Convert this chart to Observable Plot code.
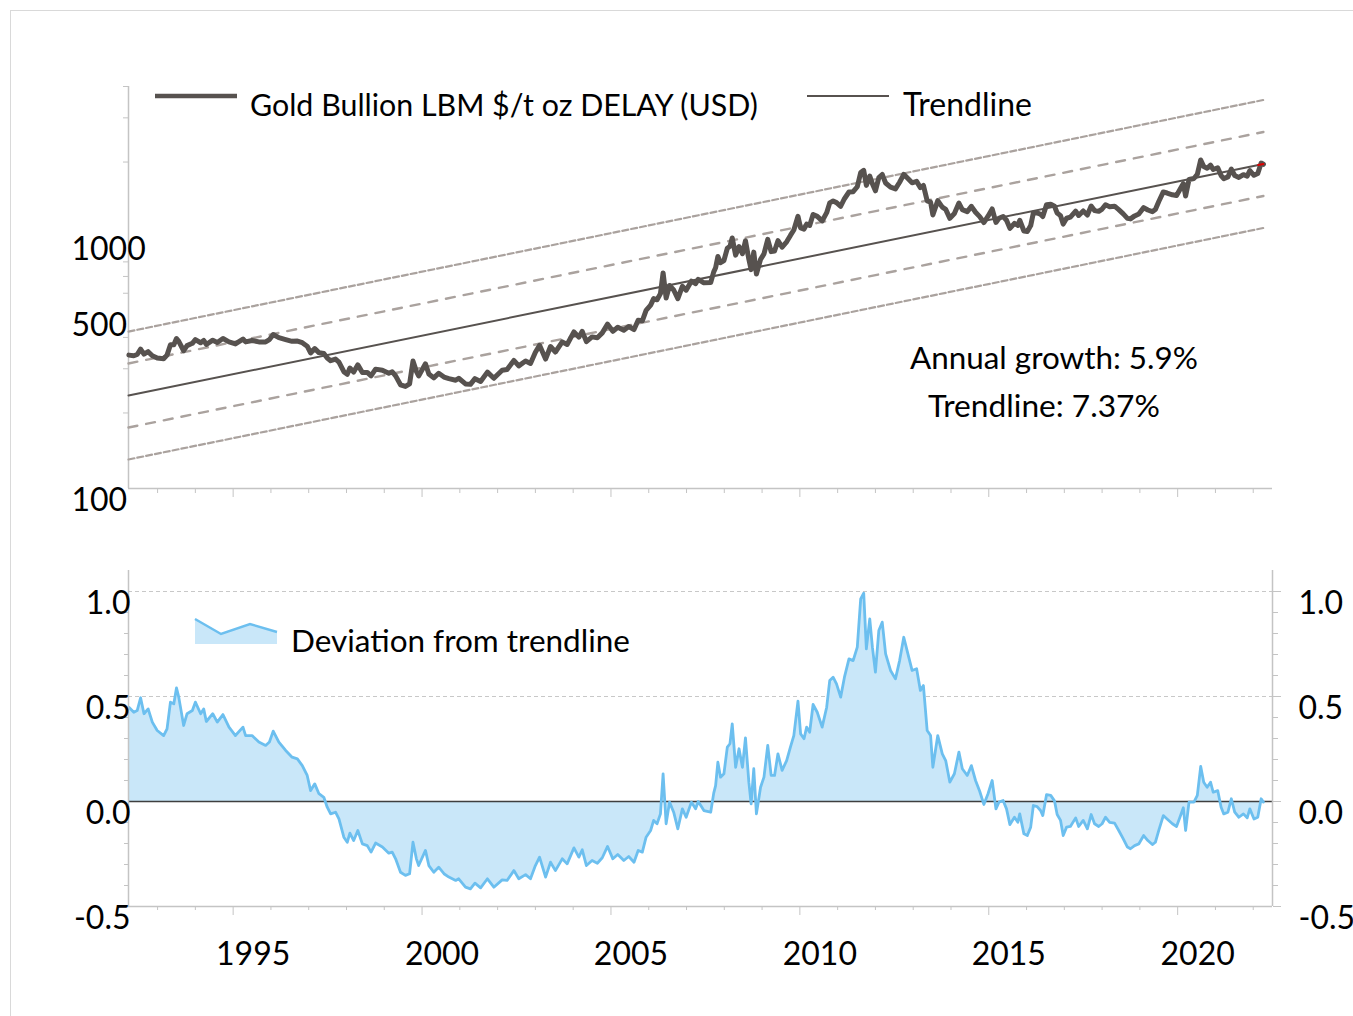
<!DOCTYPE html>
<html><head><meta charset="utf-8">
<script src="https://cdn.jsdelivr.net/npm/d3@7"></script>
<script src="https://cdn.jsdelivr.net/npm/@observablehq/plot@0.6"></script>
<style>
html,body{margin:0;padding:0;background:#fff;overflow:hidden;}
#wrap{position:relative;width:1353px;height:1016px;overflow:hidden;}
#border{position:absolute;left:10px;top:10px;width:1400px;height:1100px;border:1px solid #d9d9d9;}
#top{position:absolute;left:0;top:0;}
#bottom{position:absolute;left:0;top:520px;}
#overlay{position:absolute;left:0;top:0;}
</style></head>
<body><div id="wrap"><div id="border"></div><div id="top"></div><div id="bottom"></div><svg id="overlay" width="1353" height="1016"></svg></div>
<script>
// ---- data (decimal years) ----
const dates = [
 1992.24,1992.37,1992.46,1992.55,1992.64,1992.75,1992.86,1992.99,
 1993.16,1993.25,1993.34,1993.43,1993.50,1993.56,1993.69,1993.78,1993.92,
 1994.00,1994.14,1994.22,1994.29,1994.46,1994.58,1994.73,1994.89,
 1995.06,1995.26,1995.33,1995.50,1995.68,1995.86,1995.96,
 1996.06,1996.21,1996.39,1996.56,1996.70,1996.83,1996.96,
 1997.05,1997.16,1997.27,1997.40,1997.49,1997.58,1997.71,1997.80,1997.93,
 1998.02,1998.09,1998.19,1998.30,1998.42,1998.55,1998.65,1998.77,1998.95,
 1999.12,1999.21,1999.30,1999.43,1999.56,1999.67,1999.76,1999.85,1999.91,
 2000.09,2000.18,2000.31,2000.44,2000.58,2000.71,2000.89,2000.97,
 2001.15,2001.28,2001.40,2001.55,2001.73,2001.90,
 2002.12,2002.25,2002.43,2002.56,2002.74,2002.87,
 2003.00,2003.11,2003.27,2003.40,2003.53,2003.71,2003.84,
 2004.02,2004.15,2004.24,2004.35,2004.50,2004.64,2004.77,2004.91,
 2005.05,2005.18,2005.34,2005.47,2005.61,2005.72,2005.83,2005.93,
 2006.05,2006.13,2006.22,2006.31,2006.38,2006.46,2006.55,2006.66,2006.77,2006.89,2006.99,
 2007.13,2007.24,2007.31,2007.46,2007.64,2007.72,2007.77,2007.83,2007.90,2007.99,
 2008.08,2008.15,2008.21,2008.30,2008.39,2008.48,2008.56,2008.65,2008.71,2008.78,2008.85,2008.96,
 2009.05,2009.15,2009.24,2009.33,2009.42,2009.53,2009.65,2009.75,2009.84,2009.95,
 2010.02,2010.11,2010.18,2010.26,2010.35,2010.46,2010.59,2010.71,2010.79,2010.88,2010.97,
 2011.08,2011.18,2011.30,2011.41,2011.52,2011.61,2011.69,2011.76,2011.85,2011.92,
 2012.00,2012.09,2012.18,2012.27,2012.40,2012.53,2012.64,2012.75,2012.86,2012.97,
 2013.09,2013.19,2013.27,2013.37,2013.46,2013.52,2013.65,2013.77,2013.86,2013.97,
 2014.09,2014.21,2014.30,2014.43,2014.54,2014.65,2014.76,2014.87,2014.98,
 2015.09,2015.19,2015.27,2015.38,2015.47,2015.56,2015.68,2015.77,2015.82,2015.93,
 2016.02,2016.11,2016.18,2016.28,2016.37,2016.43,2016.53,2016.64,2016.74,2016.81,2016.90,2016.97,
 2017.06,2017.16,2017.30,2017.38,2017.50,2017.61,2017.71,2017.80,2017.91,
 2018.00,2018.09,2018.20,2018.33,2018.44,2018.56,2018.67,2018.75,2018.86,2018.97,
 2019.10,2019.21,2019.33,2019.41,2019.50,2019.62,2019.72,2019.86,2019.97,
 2020.06,2020.15,2020.21,2020.30,2020.43,2020.52,2020.61,2020.69,2020.78,2020.87,2020.94,
 2021.06,2021.15,2021.22,2021.33,2021.42,2021.51,2021.62,2021.74,2021.84,2021.91,
 2022.02,2022.12,2022.21,2022.27
];
const goldPrices = [
 340,338,342,359,343,351,338,331,
 329,340,374,374,396,386,354,371,379,
 392,381,389,375,390,382,396,384,
 377,394,384,389,384,384,392,
 411,399,392,386,387,381,369,
 347,361,348,345,331,323,328,319,292,
 285,302,291,311,290,290,281,299,296,
 288,292,281,259,255,261,322,293,281,
 314,286,276,288,278,274,270,275,
 261,260,274,267,291,275,
 296,298,324,308,322,315,
 349,372,328,368,350,384,375,
 421,401,423,385,402,399,417,452,
 423,439,427,442,430,468,466,513,
 538,571,565,598,723,574,644,618,571,639,617,
 671,655,682,660,662,730,758,840,794,810,
 907,923,996,851,921,862,971,819,745,875,716,819,
 861,984,879,884,972,916,962,1020,1072,1215,
 1092,1080,1131,1118,1236,1215,1165,1257,1375,1398,1378,
 1333,1428,1519,1523,1594,1816,1852,1614,1758,1639,
 1536,1735,1784,1650,1588,1563,1662,1786,1720,1653,
 1675,1581,1614,1401,1385,1231,1403,1322,1295,1193,
 1247,1372,1293,1269,1332,1261,1212,1148,1217,
 1301,1149,1194,1213,1172,1088,1140,1118,1172,1062,
 1058,1116,1253,1255,1239,1213,1353,1358,1333,1253,1223,1132,
 1194,1206,1275,1225,1276,1230,1335,1281,1272,
 1299,1352,1328,1334,1292,1243,1193,1187,1220,1242,
 1316,1288,1269,1294,1393,1520,1505,1481,1471,
 1555,1641,1464,1704,1720,1787,2039,1919,1889,1944,1867,
 1898,1767,1717,1745,1875,1767,1736,1781,1758,1849,
 1771,1799,1982,1959
];
const deviation = [
 .449,.425,.433,.494,.418,.441,.378,.338,
 .314,.346,.473,.465,.541,.497,.362,.418,.433,
 .473,.418,.441,.381,.418,.378,.414,.354,
 .314,.354,.314,.314,.283,.267,.283,
 .335,.283,.243,.211,.203,.171,.124,
 .052,.084,.037,.020,-.027,-.059,-.051,-.083,-.17,
 -.194,-.151,-.186,-.138,-.202,-.21,-.241,-.198,-.217,
 -.246,-.241,-.273,-.337,-.352,-.344,-.194,-.273,-.305,
 -.233,-.305,-.337,-.313,-.344,-.36,-.376,-.368,
 -.408,-.416,-.389,-.411,-.368,-.408,
 -.373,-.376,-.329,-.368,-.348,-.368,
 -.305,-.265,-.36,-.289,-.329,-.273,-.297,
 -.221,-.265,-.23,-.305,-.281,-.294,-.268,-.214,
 -.273,-.252,-.281,-.262,-.289,-.233,-.241,-.17,
 -.138,-.09,-.106,-.059,.132,-.106,-.003,-.051,-.13,-.035,-.075,
 -.003,-.035,0,-.043,-.051,.04,.076,.187,.116,.132,
 .259,.275,.37,.163,.251,.163,.303,.092,-.011,.156,-.059,.068,
 .116,.267,.124,.124,.227,.148,.195,.259,.314,.478,
 .322,.299,.354,.33,.462,.425,.354,.449,.576,.592,.56,
 .497,.592,.679,.671,.735,.965,.992,.727,.87,.735,
 .616,.814,.854,.703,.624,.584,.671,.782,.703,.624,
 .632,.529,.552,.338,.314,.163,.314,.227,.195,.092,
 .132,.235,.156,.124,.171,.1,.049,-.014,.037,
 .1,-.035,-.003,.005,-.035,-.11,-.075,-.099,-.059,-.154,
 -.162,-.122,-.019,-.024,-.043,-.067,.033,.029,.003,-.062,-.09,-.162,
 -.122,-.119,-.078,-.119,-.09,-.13,-.062,-.106,-.119,
 -.106,-.075,-.099,-.103,-.138,-.178,-.217,-.225,-.21,-.202,
 -.162,-.186,-.205,-.194,-.138,-.067,-.083,-.106,-.119,
 -.075,-.03,-.138,-.003,-.003,.029,.167,.092,.068,.092,.044,
 .052,-.027,-.059,-.051,.013,-.051,-.075,-.059,-.078,-.035,
 -.083,-.075,.013,-.003
];
// trendline and +/- bands: [start, end] values
const trendDates = [1992.23, 2022.27];
const trendValues = [234.7, 1965];
const bandOuterUpper = [422, 3535];
const bandInnerUpper = [315, 2635];
const bandInnerLower = [175, 1465];
const bandOuterLower = [130.5, 1092];
const latestDates = [2022.13, 2022.27];
const latestValues = [1946, 1965];
// axes
const xDomain = [1992.23, 2022.51];
const priceLabels = [100, 500, 1000];
const priceMinorTicks = [200, 300, 400, 600, 700, 800, 2000, 3000, 4000];
const devLabels = [-0.5, 0, 0.5, 1.0];
const devMinorTicks = [-0.4,-0.3,-0.2,-0.1,0.1,0.2,0.3,0.4,0.6,0.7,0.8,0.9];
const devGrid = [0.5, 1.0];
const yearMajor = [1995, 2000, 2005, 2010, 2015, 2020];
const yearMinor = [1993,1994,1996,1997,1998,1999,2001,2002,2003,2004,2006,2007,2008,2009,2011,2012,2013,2014,2016,2017,2018,2019,2021,2022];

// ---- styles ----
const goldColor = "#57524f", bandColor = "#aaa29e", axisGray = "#c4c4c4";
const lineBlue = "#6cbfef", fillBlue = "#c9e7f9";
const font = "Lato, 'Open Sans', sans-serif";

const gold = dates.map((d, i) => ({date: d, price: goldPrices[i]}));
const dev = dates.map((d, i) => ({date: d, value: deviation[i]}));
const trend = trendDates.map((d, i) => ({date: d, value: trendValues[i]}));
const mkBand = (name, arr) => trendDates.map((d, i) => ({date: d, value: arr[i], band: name}));
const outerBands = [...mkBand("ou", bandOuterUpper), ...mkBand("ol", bandOuterLower)];
const innerBands = [...mkBand("iu", bandInnerUpper), ...mkBand("il", bandInnerLower)];
const latest = latestDates.map((d, i) => ({date: d, value: latestValues[i]}));

const baseStyle = {fontFamily: font, fontSize: "32px", background: "none", color: "#000", overflow: "visible"};

const topChart = Plot.plot({
  width: 1353, height: 520,
  marginLeft: 128, marginRight: 81, marginTop: 86, marginBottom: 32,
  style: baseStyle,
  x: {domain: xDomain, label: null},
  y: {type: "log", domain: [100, 4000], label: null},
  marks: [
    Plot.ruleX([xDomain[0]], {stroke: axisGray, strokeWidth: 1.5}),
    Plot.ruleY([100], {stroke: axisGray, strokeWidth: 1.5}),
    Plot.axisY(priceMinorTicks, {anchor: "left", tickSize: 5, tickFormat: () => "", stroke: axisGray, label: null}),
    Plot.axisY(priceLabels, {anchor: "left", tickSize: 0, tickPadding: 0, textAnchor: "start", dx: -57, lineAnchor: "top", tickFormat: d => String(d), label: null}),
    Plot.axisX(yearMinor, {tickSize: 5, tickFormat: () => "", stroke: axisGray, label: null}),
    Plot.axisX(yearMajor, {tickSize: 9, tickFormat: () => "", stroke: axisGray, label: null}),
    Plot.line(outerBands, {x: "date", y: "value", z: "band", stroke: bandColor, strokeWidth: 2.2, strokeDasharray: "6,3"}),
    Plot.line(innerBands, {x: "date", y: "value", z: "band", stroke: bandColor, strokeWidth: 2.4, strokeDasharray: "9,9"}),
    Plot.line(trend, {x: "date", y: "value", stroke: goldColor, strokeWidth: 2}),
    Plot.line(gold, {x: "date", y: "price", stroke: goldColor, strokeWidth: 5, strokeLinejoin: "round"}),
    Plot.line(latest, {x: "date", y: "value", stroke: "#e00000", strokeWidth: 2})
  ]
});
document.getElementById("top").appendChild(topChart);

const fmt = d => d.toFixed(1);
const bottomChart = Plot.plot({
  width: 1353, height: 496,
  marginLeft: 128, marginRight: 81, marginTop: 50, marginBottom: 110,
  style: baseStyle,
  x: {domain: xDomain, label: null},
  y: {domain: [-0.5, 1.1], label: null},
  marks: [
    Plot.ruleY(devGrid, {stroke: "#c8c8c8", strokeDasharray: "4,3", strokeWidth: 1}),
    Plot.areaY(dev, {x: "date", y: "value", fill: fillBlue}),
    Plot.ruleY([0], {stroke: "#3f3f3f", strokeWidth: 1.6}),
    Plot.lineY(dev, {x: "date", y: "value", stroke: lineBlue, strokeWidth: 2.8, strokeLinejoin: "round"}),
    Plot.ruleX([xDomain[0]], {stroke: axisGray, strokeWidth: 1.5}),
    Plot.ruleX([xDomain[1]], {stroke: axisGray, strokeWidth: 1.5}),
    Plot.ruleY([-0.5], {stroke: axisGray, strokeWidth: 1.5}),
    Plot.axisY(devMinorTicks, {anchor: "left", tickSize: 4, tickFormat: () => "", stroke: axisGray, label: null}),
    Plot.axisY(devLabels, {anchor: "left", tickSize: 0, tickPadding: 0, dx: 2, lineAnchor: "top", tickFormat: fmt, label: null}),
    Plot.axisY(devMinorTicks, {anchor: "right", tickSize: 5, tickFormat: () => "", stroke: axisGray, label: null}),
    Plot.axisY(devLabels, {anchor: "right", tickSize: 8, tickPadding: 18, lineAnchor: "top", tickFormat: fmt, stroke: axisGray, label: null}),
    Plot.axisX(yearMinor, {tickSize: 4, tickFormat: () => "", stroke: axisGray, label: null}),
    Plot.axisX(yearMajor, {tickSize: 9, tickFormat: () => "", stroke: axisGray, label: null}),
    Plot.axisX(yearMajor, {tickSize: 0, tickPadding: 36, dx: 20, lineAnchor: "top", tickFormat: d => String(d), label: null})
  ]
});
document.getElementById("bottom").appendChild(bottomChart);

// ---- legends and annotations ----
const ov = d3.select("#overlay");
function addText(str, x, y, targetW, size) {
  const t = ov.append("text").attr("x", x).attr("y", y).attr("font-family", font)
    .attr("font-size", size).attr("fill", "#000").text(str);
  const w = t.node().getComputedTextLength();
  if (w > 0) t.attr("font-size", (size * targetW / w).toFixed(2));
}
ov.append("line").attr("x1", 155).attr("x2", 237).attr("y1", 96).attr("y2", 96)
  .attr("stroke", goldColor).attr("stroke-width", 4.5);
addText("Gold Bullion LBM $/t oz DELAY (USD)", 250, 116, 508, 30);
ov.append("line").attr("x1", 807).attr("x2", 889).attr("y1", 96).attr("y2", 96)
  .attr("stroke", goldColor).attr("stroke-width", 2);
addText("Trendline", 903, 116, 129, 30);
addText("Annual growth: 5.9%", 910, 369, 288, 30);
addText("Trendline: 7.37%", 928, 417, 232, 30);
ov.append("polygon").attr("points", "195,619 221,634 250,624 277,632 277,644 195,644").attr("fill", fillBlue);
ov.append("polyline").attr("points", "195,619 221,634 250,624 277,632").attr("fill", "none")
  .attr("stroke", lineBlue).attr("stroke-width", 2.5);
addText("Deviation from trendline", 291, 652, 339, 30);
</script>
</body></html>
